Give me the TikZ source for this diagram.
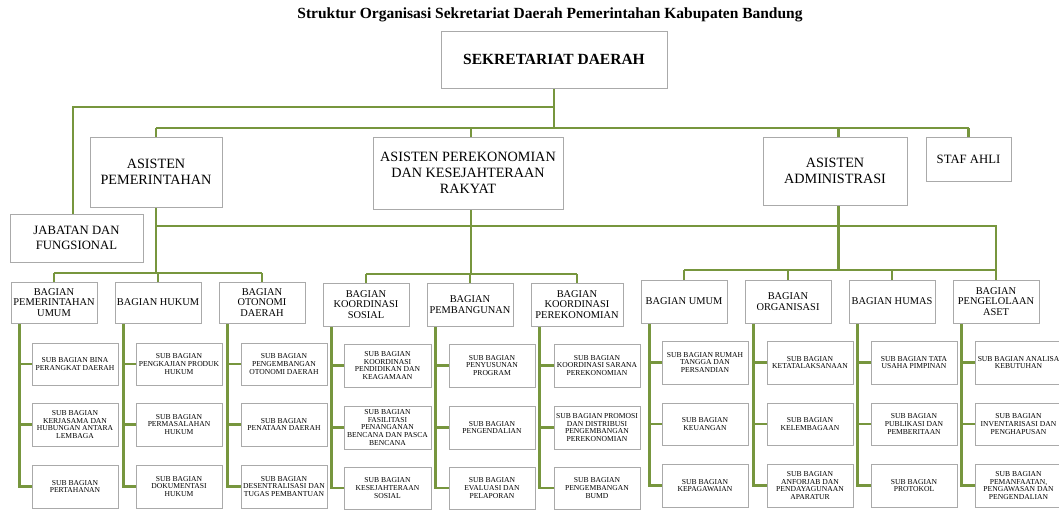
\documentclass[tikz,border=0pt]{standalone}
\usepackage{fontspec}
\setmainfont{Liberation Serif}
\usetikzlibrary{shadows}
\definecolor{lgreen}{RGB}{119,150,62}
\definecolor{bdr}{RGB}{170,170,170}
\pgfdeclarelayer{bg}
\pgfdeclarelayer{lines}
\pgfsetlayers{bg,lines,main}
\tikzset{
  box/.style={draw=bdr, line width=0.7pt, fill=white, align=center, inner sep=0.5pt,
    drop shadow={shadow xshift=1.3pt, shadow yshift=-1.3pt, fill=black, opacity=0.35}},
  sekbox/.style={box, font=\fontsize{15.5}{17}\selectfont\bfseries},
  asbox/.style={box, font=\fontsize{14.2}{16}\selectfont},
  stafbox/.style={box, font=\fontsize{12.7}{15}\selectfont},
  bagbox/.style={box, font=\fontsize{10.4}{10.6}\selectfont},
  subbox/.style={box, font=\fontsize{7.6}{7.9}\selectfont},
  conn/.style={draw=lgreen, line width=2.7pt},
  titletext/.style={font=\fontsize{15.5}{17}\selectfont\bfseries}
}
% name, left, top, right, bottom, style, text
\newcommand\bx[7]{\node[#6, minimum width={(#4)-(#2)}, minimum height={(#5)-(#3)}] (#1) at ({((#2)+(#4))/2},{((#3)+(#5))/2}) {#7};}
\begin{document}
\begin{tikzpicture}[x=1pt,y=-1pt]
\begin{pgfonlayer}{bg}
\fill[white] (0,0) rectangle (1059,510);
\end{pgfonlayer}
\useasboundingbox (0,0) rectangle (1059,510);

\node[titletext] (title) at (550,15) {Struktur Organisasi Sekretariat Daerah Pemerintahan Kabupaten Bandung};

\bx{sek}{441}{31}{667}{88}{sekbox}{SEKRETARIAT DAERAH}
\bx{asp}{90}{137}{222}{207}{asbox}{ASISTEN\\PEMERINTAHAN}
\bx{ape}{373}{137}{563}{209}{asbox}{ASISTEN PEREKONOMIAN\\DAN KESEJAHTERAAN\\RAKYAT}
\bx{aad}{763}{137}{907}{205}{asbox}{ASISTEN\\ADMINISTRASI}
\bx{staf}{926}{137}{1011}{181}{stafbox}{STAF AHLI}
\bx{jab}{10}{214}{143}{262}{stafbox}{JABATAN DAN\\FUNGSIONAL}

% Group 1
\bx{a1}{11}{282}{97}{323}{bagbox}{BAGIAN\\PEMERINTAHAN\\UMUM}
\bx{a2}{115}{282}{201}{323}{bagbox}{BAGIAN HUKUM}
\bx{a3}{219}{282}{305}{323}{bagbox}{BAGIAN\\OTONOMI\\DAERAH}
\bx{a11}{32}{343}{118}{385}{subbox}{SUB BAGIAN BINA\\PERANGKAT DAERAH}
\bx{a12}{32}{403}{118}{446}{subbox}{SUB BAGIAN\\KERJASAMA DAN\\HUBUNGAN ANTARA\\LEMBAGA}
\bx{a13}{32}{465}{118}{508}{subbox}{SUB BAGIAN\\PERTAHANAN}
\bx{a21}{136}{343}{222}{385}{subbox}{SUB BAGIAN\\PENGKAJIAN PRODUK\\HUKUM}
\bx{a22}{136}{403}{222}{446}{subbox}{SUB BAGIAN\\PERMASALAHAN\\HUKUM}
\bx{a23}{136}{465}{222}{508}{subbox}{SUB BAGIAN\\DOKUMENTASI\\HUKUM}
\bx{a31}{241}{343}{327}{385}{subbox}{SUB BAGIAN\\PENGEMBANGAN\\OTONOMI DAERAH}
\bx{a32}{241}{403}{327}{446}{subbox}{SUB BAGIAN\\PENATAAN DAERAH}
\bx{a33}{241}{465}{327}{508}{subbox}{SUB BAGIAN\\DESENTRALISASI DAN\\TUGAS PEMBANTUAN}

% Group 2
\bx{b1}{323}{283}{409}{326}{bagbox}{BAGIAN\\KOORDINASI\\SOSIAL}
\bx{b2}{427}{283}{513}{326}{bagbox}{BAGIAN\\PEMBANGUNAN}
\bx{b3}{531}{283}{623}{326}{bagbox}{BAGIAN\\KOORDINASI\\PEREKONOMIAN}
\bx{b11}{344}{344}{431}{387}{subbox}{SUB BAGIAN\\KOORDINASI\\PENDIDIKAN DAN\\KEAGAMAAN}
\bx{b12}{344}{406}{431}{449}{subbox}{SUB BAGIAN\\FASILITASI\\PENANGANAN\\BENCANA DAN PASCA\\BENCANA}
\bx{b13}{344}{467}{431}{509}{subbox}{SUB BAGIAN\\KESEJAHTERAAN\\SOSIAL}
\bx{b21}{449}{344}{535}{387}{subbox}{SUB BAGIAN\\PENYUSUNAN\\PROGRAM}
\bx{b22}{449}{406}{535}{449}{subbox}{SUB BAGIAN\\PENGENDALIAN}
\bx{b23}{449}{467}{535}{509}{subbox}{SUB BAGIAN\\EVALUASI DAN\\PELAPORAN}
\bx{b31}{554}{344}{640}{387}{subbox}{SUB BAGIAN\\KOORDINASI SARANA\\PEREKONOMIAN}
\bx{b32}{554}{406}{640}{449}{subbox}{SUB BAGIAN PROMOSI\\DAN DISTRIBUSI\\PENGEMBANGAN\\PEREKONOMIAN}
\bx{b33}{554}{467}{640}{509}{subbox}{SUB BAGIAN\\PENGEMBANGAN\\BUMD}

% Group 3
\bx{c1}{641}{280}{727}{323}{bagbox}{BAGIAN UMUM}
\bx{c2}{745}{280}{831}{323}{bagbox}{BAGIAN\\ORGANISASI}
\bx{c3}{849}{280}{935}{323}{bagbox}{BAGIAN HUMAS}
\bx{c4}{953}{280}{1039}{323}{bagbox}{BAGIAN\\PENGELOLAAN\\ASET}
\bx{c11}{662}{341}{748}{384}{subbox}{SUB BAGIAN RUMAH\\TANGGA DAN\\PERSANDIAN}
\bx{c12}{662}{403}{748}{445}{subbox}{SUB BAGIAN\\KEUANGAN}
\bx{c13}{662}{464}{748}{507}{subbox}{SUB BAGIAN\\KEPAGAWAIAN}
\bx{c21}{767}{341}{853}{384}{subbox}{SUB BAGIAN\\KETATALAKSANAAN}
\bx{c22}{767}{403}{853}{445}{subbox}{SUB BAGIAN\\KELEMBAGAAN}
\bx{c23}{767}{464}{853}{507}{subbox}{SUB BAGIAN\\ANFORJAB DAN\\PENDAYAGUNAAN\\APARATUR}
\bx{c31}{871}{341}{957}{384}{subbox}{SUB BAGIAN TATA\\USAHA PIMPINAN}
\bx{c32}{871}{403}{957}{445}{subbox}{SUB BAGIAN\\PUBLIKASI DAN\\PEMBERITAAN}
\bx{c33}{871}{464}{957}{507}{subbox}{SUB BAGIAN\\PROTOKOL}
\bx{c41}{975}{341}{1062}{384}{subbox}{SUB BAGIAN ANALISA\\KEBUTUHAN}
\bx{c42}{975}{403}{1062}{445}{subbox}{SUB BAGIAN\\INVENTARISASI DAN\\PENGHAPUSAN}
\bx{c43}{975}{464}{1062}{507}{subbox}{SUB BAGIAN\\PEMANFAATAN,\\PENGAWASAN DAN\\PENGENDALIAN}

\begin{pgfonlayer}{lines}
% top level
\draw[conn] (sek.south) -- (sek.south |- 0,128);
\draw[conn] (sek.south |- 0,107) -| ([xshift=-3.5pt]jab.north);
\draw[conn] (asp.north |- 0,128) -- (staf.north |- 0,128);
\foreach \n/\s in {asp/0,ape/3,aad/3.5,staf/0}
  \draw[conn] ([xshift=\s pt]\n.north) -- ([xshift=\s pt]\n.north |- 0,128);
\draw[conn] (asp.south |- 0,226) -| (c4.north |- 0,270);
% asisten stems and bagian buses
\draw[conn] (asp.south) -- (asp.south |- 0,273);
\draw[conn] (a1.north |- 0,273) -- (a3.north |- 0,273);
\foreach \n in {a1,a2,a3} \draw[conn] (\n.north) -- (\n.north |- 0,273);
\draw[conn] ([xshift=3pt]ape.south) -- ([xshift=3pt]ape.south |- 0,274);
\draw[conn] (b1.north |- 0,274) -- (b3.north |- 0,274);
\foreach \n in {b1,b2,b3} \draw[conn] (\n.north) -- (\n.north |- 0,274);
\draw[conn] ([xshift=3.5pt]aad.south) -- ([xshift=3.5pt]aad.south |- 0,270);
\draw[conn] (c1.north |- 0,270) -- (c4.north |- 0,270);
\foreach \n in {c1,c2,c3,c4} \draw[conn] (\n.north) -- (\n.north |- 0,270);
% sub bagian trunks
\foreach \n in {a1,a2,a3,b1,b2,b3,c1,c2,c3,c4}{
  \coordinate (\n v) at ([xshift=9pt]\n.south west);
  \draw[conn] (\n v) |- (\n 3.west);
  \draw[conn] (\n v |- \n 1.west) -- (\n 1.west);
  \draw[conn] (\n v |- \n 2.west) -- (\n 2.west);
}
\end{pgfonlayer}
\end{tikzpicture}
\end{document}
